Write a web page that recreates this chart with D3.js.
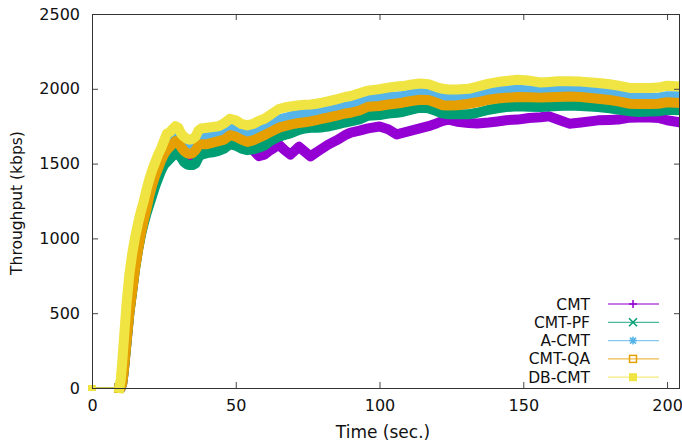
<!DOCTYPE html>
<html>
<head>
<meta charset="utf-8">
<script src="https://cdn.jsdelivr.net/npm/d3@7"></script>
<style>
html,body{margin:0;padding:0;background:#fff;}
svg{display:block;}
text{font-family:"DejaVu Sans",sans-serif;fill:#111;}
</style>
</head>
<body>
<svg id="chart" width="682" height="445"></svg>
<script>
// ---- data ----
const TIME = [0, 9.5, 10, 10.5, 11, 12, 13, 14, 15, 16, 17, 18, 19, 20, 21, 22, 23, 24, 25, 26, 27, 28, 29, 30, 31, 32, 33, 34, 35, 36, 37, 38,
  40, 42, 44, 46, 48, 50, 52, 54, 56, 58, 60,
  62, 65, 67, 69, 72, 74, 76, 78, 80, 82, 85, 88, 90, 93, 96, 100, 103, 106, 108, 110, 114, 117, 120, 122, 124, 127, 131, 134, 138, 141,
  144, 148, 152, 156, 159, 162, 166, 170, 176, 180, 183, 187, 190, 194, 197, 200, 204.5];

const CMT = [0, 0, 0, 30, 105, 310, 510, 660, 810, 930, 1035, 1115, 1185, 1250, 1310, 1370, 1420, 1465, 1500, 1520, 1545, 1565, 1585, 1580, 1560, 1535, 1520, 1515, 1515, 1525, 1560, 1580,
  1590, 1595, 1605, 1620, 1650, 1640, 1620, 1605, 1590, 1550, 1560,
  1590, 1626, 1590, 1560, 1613, 1580, 1548, 1575, 1600, 1625, 1655, 1690, 1707, 1720, 1735, 1748, 1730, 1695, 1705, 1715, 1735, 1750, 1770, 1785, 1794, 1780, 1772, 1768, 1775, 1782,
  1790, 1794, 1805, 1810, 1816, 1795, 1767, 1775, 1789, 1792, 1794, 1807, 1808, 1808, 1805, 1790, 1776];

const CMT_PF = [0, 0, 0, 30, 100, 300, 500, 650, 800, 920, 1020, 1100, 1170, 1230, 1290, 1350, 1400, 1450, 1490, 1510, 1530, 1550, 1570, 1560, 1540, 1510, 1495, 1490, 1490, 1500, 1540, 1560,
  1570, 1575, 1585, 1600, 1630, 1620, 1600, 1590, 1595, 1606, 1620,
  1650, 1680, 1692, 1702, 1725, 1735, 1740, 1740, 1742, 1747, 1760, 1775, 1782, 1795, 1820, 1825, 1835, 1840, 1845, 1855, 1874, 1870, 1850, 1835, 1830, 1830, 1830, 1840, 1860, 1870,
  1878, 1883, 1880, 1878, 1882, 1885, 1888, 1885, 1878, 1870, 1861, 1850, 1845, 1848, 1850, 1860, 1856];

const A_CMT = [0, 0, 0, 80, 200, 420, 620, 780, 900, 1010, 1100, 1180, 1260, 1340, 1410, 1460, 1510, 1560, 1600, 1640, 1660, 1680, 1690, 1680, 1650, 1625, 1610, 1600, 1605, 1625, 1660, 1670,
  1675, 1685, 1695, 1710, 1740, 1730, 1710, 1695, 1705, 1727, 1745,
  1765, 1794, 1805, 1815, 1828, 1835, 1842, 1848, 1855, 1861, 1875, 1888, 1894, 1910, 1927, 1941, 1945, 1948, 1952, 1960, 1973, 1970, 1955, 1945, 1941, 1942, 1950, 1960, 1977, 1985,
  1990, 1993, 1988, 1983, 1985, 1988, 1990, 1988, 1977, 1970, 1961, 1945, 1940, 1941, 1941, 1950, 1950];

const CMT_QA = [0, 0, 0, 30, 100, 300, 500, 650, 800, 920, 1030, 1120, 1200, 1290, 1360, 1420, 1470, 1520, 1560, 1590, 1610, 1630, 1650, 1640, 1610, 1585, 1570, 1565, 1570, 1590, 1620, 1630,
  1630, 1640, 1650, 1660, 1690, 1680, 1660, 1645, 1655, 1673, 1690,
  1710, 1740, 1750, 1760, 1772, 1776, 1782, 1790, 1800, 1807, 1820, 1835, 1840, 1855, 1880, 1885, 1895, 1902, 1907, 1915, 1927, 1925, 1905, 1890, 1888, 1890, 1900, 1910, 1927, 1935,
  1940, 1945, 1944, 1941, 1943, 1945, 1948, 1945, 1934, 1925, 1916, 1900, 1898, 1898, 1900, 1910, 1905];

const DB_CMT = [0, 0, 60, 170, 300, 560, 760, 900, 1010, 1100, 1180, 1250, 1330, 1400, 1460, 1510, 1560, 1600, 1650, 1700, 1710, 1730, 1750, 1740, 1700, 1680, 1665, 1660, 1665, 1680, 1720, 1735,
  1740, 1745, 1750, 1770, 1800, 1790, 1765, 1755, 1765, 1785, 1800,
  1825, 1865, 1875, 1882, 1890, 1893, 1895, 1900, 1908, 1916, 1930, 1945, 1952, 1970, 1988, 1998, 2008, 2015, 2018, 2025, 2035, 2030, 2010, 2000, 1995, 1995, 2000, 2015, 2035, 2045,
  2052, 2060, 2055, 2042, 2046, 2050, 2050, 2048, 2039, 2030, 2021, 2006, 2005, 2006, 2008, 2021, 2015];

const SERIES_NAMES = ["CMT", "CMT-PF", "A-CMT", "CMT-QA", "DB-CMT"];
const SERIES_VALUES = [CMT, CMT_PF, A_CMT, CMT_QA, DB_CMT];
const SERIES_COLORS = ["#9400d3", "#009e73", "#56b4e9", "#e69f00", "#f0e442"];
const SERIES_MARKERS = ["plus", "cross", "star", "square", "filled"];

const X_TICKS = [0, 50, 100, 150, 200];
const Y_TICKS = [0, 500, 1000, 1500, 2000, 2500];
const X_LABEL = "Time (sec.)";
const Y_LABEL = "Throughput (kbps)";

// ---- layout ----
const svg = d3.select("#chart");
const L = 92, R = 680, T = 14, B = 388;
const x = d3.scaleLinear().domain([0, 204.5]).range([L, R]);
const y = d3.scaleLinear().domain([0, 2500]).range([B, T]);

svg.append("defs").append("clipPath").attr("id", "plotclip")
  .append("rect").attr("x", L).attr("y", 0).attr("width", R - L).attr("height", B + 8);

const series = SERIES_NAMES.map((n, i) => ({
  name: n, color: SERIES_COLORS[i], marker: SERIES_MARKERS[i],
  pts: TIME.map((t, j) => [t, SERIES_VALUES[i][j]])
}));

const line = d3.line().x(d => x(d[0])).y(d => y(d[1]));
const plot = svg.append("g").attr("clip-path", "url(#plotclip)");

series.forEach(s => {
  // thin line between first sample and the start of the transfer
  plot.append("path").attr("d", line(s.pts.slice(0, 2)))
    .attr("fill", "none").attr("stroke", s.color).attr("stroke-width", 1);
  // dense point band
  plot.append("path").attr("d", line(s.pts.slice(1)))
    .attr("fill", "none").attr("stroke", s.color).attr("stroke-width", 10)
    .attr("stroke-linejoin", "round").attr("stroke-linecap", "square");
});
// first-sample markers
series.forEach(s => {
  svg.append("rect").attr("x", x(s.pts[0][0]) - 4).attr("y", y(s.pts[0][1]) - 3)
    .attr("width", 8).attr("height", 6).attr("fill", s.color);
});

// ---- axes ----
function styleAxis(g, showText) {
  g.select(".domain").remove();
  g.selectAll(".tick line").attr("stroke", "#444");
  if (!showText) g.selectAll(".tick text").remove();
  else g.selectAll(".tick text").attr("font-size", 16).attr("fill", "#111")
    .attr("font-family", "DejaVu Sans, sans-serif");
}
svg.append("g").attr("transform", `translate(${L},0)`)
  .call(d3.axisLeft(y).tickValues(Y_TICKS).tickSize(-6).tickPadding(12).tickFormat(d3.format("d")))
  .call(g => styleAxis(g, true));
svg.append("g").attr("transform", `translate(${R},0)`)
  .call(d3.axisRight(y).tickValues(Y_TICKS).tickSize(-6))
  .call(g => styleAxis(g, false));
svg.append("g").attr("transform", `translate(0,${B})`)
  .call(d3.axisBottom(x).tickValues(X_TICKS).tickSize(-6).tickPadding(12).tickFormat(d3.format("d")))
  .call(g => styleAxis(g, true));
svg.append("g").attr("transform", `translate(0,${T})`)
  .call(d3.axisTop(x).tickValues(X_TICKS).tickSize(-6))
  .call(g => styleAxis(g, false));

// frame
svg.append("rect").attr("x", L + 0.5).attr("y", T + 0.5).attr("width", R - L - 1).attr("height", B - T)
  .attr("fill", "none").attr("stroke", "#333").attr("stroke-width", 1);

// axis labels
svg.append("text").attr("x", (L + R) / 2 - 3).attr("y", 438).attr("text-anchor", "middle")
  .attr("font-size", 17).text(X_LABEL);
svg.append("text").attr("transform", `translate(22,${(T + B) / 2 + 2}) rotate(-90)`)
  .attr("text-anchor", "middle").attr("font-size", 15.5).text(Y_LABEL);

// ---- legend ----
const legY0 = 304, legDY = 18.3;
const leg = svg.append("g");
series.forEach((s, i) => {
  const cy = legY0 + i * legDY;
  leg.append("text").attr("x", 590).attr("y", cy + 5.5).attr("text-anchor", "end")
    .attr("font-size", 15.5).text(s.name);
  leg.append("line").attr("x1", 608).attr("x2", 659).attr("y1", cy).attr("y2", cy)
    .attr("stroke", s.color).attr("stroke-width", 1.3).attr("opacity", 0.7);
  const m = leg.append("g").attr("transform", `translate(633,${cy})`)
    .attr("stroke", s.color).attr("stroke-width", 1.5).attr("fill", "none");
  if (s.marker === "plus") m.append("path").attr("d", "M-4,0H4M0,-4V4");
  if (s.marker === "cross") m.append("path").attr("d", "M-4,-4L4,4M-4,4L4,-4");
  if (s.marker === "star") m.append("path").attr("d", "M-4,0H4M0,-4V4M-3,-3L3,3M-3,3L3,-3");
  if (s.marker === "square") m.append("rect").attr("x", -3.5).attr("y", -3.5).attr("width", 7).attr("height", 7);
  if (s.marker === "filled") m.append("rect").attr("x", -4).attr("y", -4).attr("width", 8).attr("height", 8)
    .attr("fill", s.color).attr("stroke", "none");
});
</script>
</body>
</html>
